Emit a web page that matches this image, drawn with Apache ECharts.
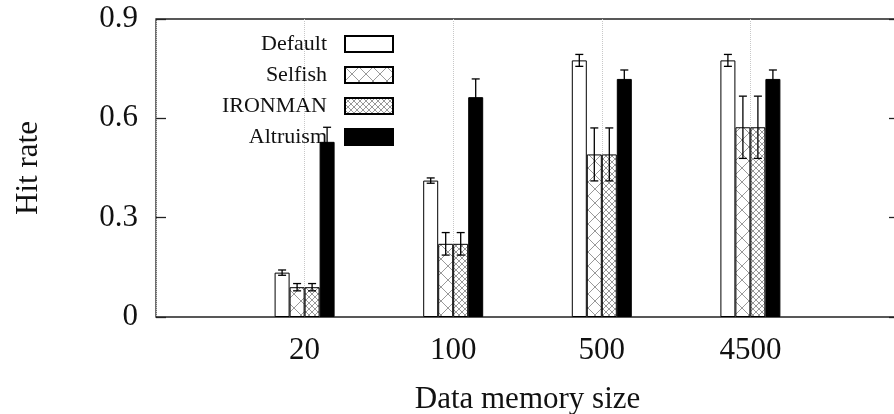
<!DOCTYPE html>
<html><head><meta charset="utf-8">
<script src="https://cdn.jsdelivr.net/npm/echarts@6/dist/echarts.min.js"></script>
<style>html,body{margin:0;padding:0;background:#fff}#c{width:894px;height:414px}</style>
</head><body><div id="c"></div>
<script>
// ---- data ----
const categories = ['', '20', '100', '500', '4500', ''];
const seriesNames = ['Default', 'Selfish', 'IRONMAN', 'Altruism'];
const defaultVals  = [0.134, 0.412, 0.775, 0.775];
const defaultErr   = [0.008, 0.008, 0.018, 0.018];
const selfishVals  = [0.090, 0.221, 0.491, 0.573];
const selfishErr   = [0.011, 0.034, 0.080, 0.094];
const ironmanVals  = [0.090, 0.221, 0.491, 0.573];
const ironmanErr   = [0.011, 0.034, 0.080, 0.094];
const altruismVals = [0.529, 0.664, 0.719, 0.719];
const altruismErr  = [0.044, 0.055, 0.027, 0.027];
const yTickLabels  = ['0', '0.3', '0.6', '0.9'];

// ---- styles ----
const FONT = 'Liberation Serif';
const BAR_W = 15;
const INK = '#111';

function hatch(T, lw, color) {
  const c = document.createElement('canvas');
  c.width = T; c.height = T;
  const g = c.getContext('2d');
  g.fillStyle = '#fff'; g.fillRect(0, 0, T, T);
  g.strokeStyle = color; g.lineWidth = lw;
  g.beginPath();
  g.moveTo(-1, -1); g.lineTo(T + 1, T + 1);
  g.moveTo(T + 1, -1); g.lineTo(-1, T + 1);
  g.stroke();
  return c;
}
const selfishPattern = { image: hatch(14, 1, '#999999'), repeat: 'repeat' };
const ironmanPattern = { image: hatch(6, 1, '#999999'), repeat: 'repeat' };

const fills = ['#ffffff', selfishPattern, ironmanPattern, '#000000'];
const valsList = [defaultVals, selfishVals, ironmanVals, altruismVals];
const errList = [defaultErr, selfishErr, ironmanErr, altruismErr];

function barSeries(si) {
  return {
    type: 'bar', name: seriesNames[si],
    barWidth: BAR_W, barGap: '0%',
    data: valsList[si].map((v, i) => [i + 1, v]),
    itemStyle: { color: fills[si], borderColor: '#000', borderWidth: 1 },
    emphasis: { disabled: true },
    z: 3
  };
}
function errSeries(si) {
  const vals = valsList[si], errs = errList[si];
  return {
    type: 'custom', name: seriesNames[si] + ' err', z: 5,
    data: vals.map((v, i) => [i + 1, v - errs[i], v + errs[i]]),
    renderItem(params, api) {
      const x = api.value(0);
      const lo = api.coord([x, api.value(1)]);
      const hi = api.coord([x, api.value(2)]);
      const cx = lo[0] + (si - 1.5) * BAR_W;
      const hw = 4;
      const st = { stroke: '#000', lineWidth: 1.3 };
      return { type: 'group', children: [
        { type: 'line', shape: { x1: cx, y1: lo[1], x2: cx, y2: hi[1] }, style: st },
        { type: 'line', shape: { x1: cx - hw, y1: lo[1], x2: cx + hw, y2: lo[1] }, style: st },
        { type: 'line', shape: { x1: cx - hw, y1: hi[1], x2: cx + hw, y2: hi[1] }, style: st }
      ]};
    }
  };
}

const chart = echarts.init(document.getElementById('c'), null, { renderer: 'canvas' });
const yCommon = {
  type: 'value', min: 0, max: 0.9, interval: 0.3,
  axisLine: { show: false },
  splitLine: { show: false },
  axisTick: { show: true, inside: true, length: 10, lineStyle: { color: '#222', width: 1.3 } }
};
chart.setOption({
  animation: false,
  backgroundColor: '#fff',
  grid: { left: 156, top: 19, width: 743, height: 298, show: true,
          outerBoundsMode: 'none', containLabel: false,
          borderColor: '#222', borderWidth: 1.3, backgroundColor: 'transparent' },
  legend: {
    data: seriesNames, orient: 'vertical', align: 'right',
    right: 500, top: 33, padding: 0, z: 1,
    itemWidth: 48, itemHeight: 16, itemGap: 9,
    icon: 'rect', selectedMode: false,
    textStyle: { fontFamily: FONT, fontSize: 22, color: INK, padding: [0, 13, 0, 0] }
  },
  xAxis: {
    type: 'category', data: categories, boundaryGap: false,
    axisLine: { show: false }, axisTick: { show: false },
    splitLine: { show: true, lineStyle: { color: '#c8c8c8', type: 'dotted', width: 1 } },
    axisLabel: { interval: 0, fontFamily: FONT, fontSize: 31, color: INK, margin: 18 },
    name: 'Data memory size', nameLocation: 'middle', nameGap: 67,
    nameTextStyle: { fontFamily: FONT, fontSize: 31, color: INK }
  },
  yAxis: [
    Object.assign({}, yCommon, {
      position: 'left',
      axisLabel: { fontFamily: FONT, fontSize: 31, color: INK, margin: 18,
        formatter: v => yTickLabels[Math.round(v / 0.3)] },
      name: 'Hit rate', nameLocation: 'middle', nameGap: 112,
      nameTextStyle: { fontFamily: FONT, fontSize: 31, color: INK }
    }),
    Object.assign({}, yCommon, { position: 'right', axisLabel: { show: false } })
  ],
  series: [0, 1, 2, 3].map(barSeries).concat([0, 1, 2, 3].map(errSeries))
});
</script>
</body></html>
